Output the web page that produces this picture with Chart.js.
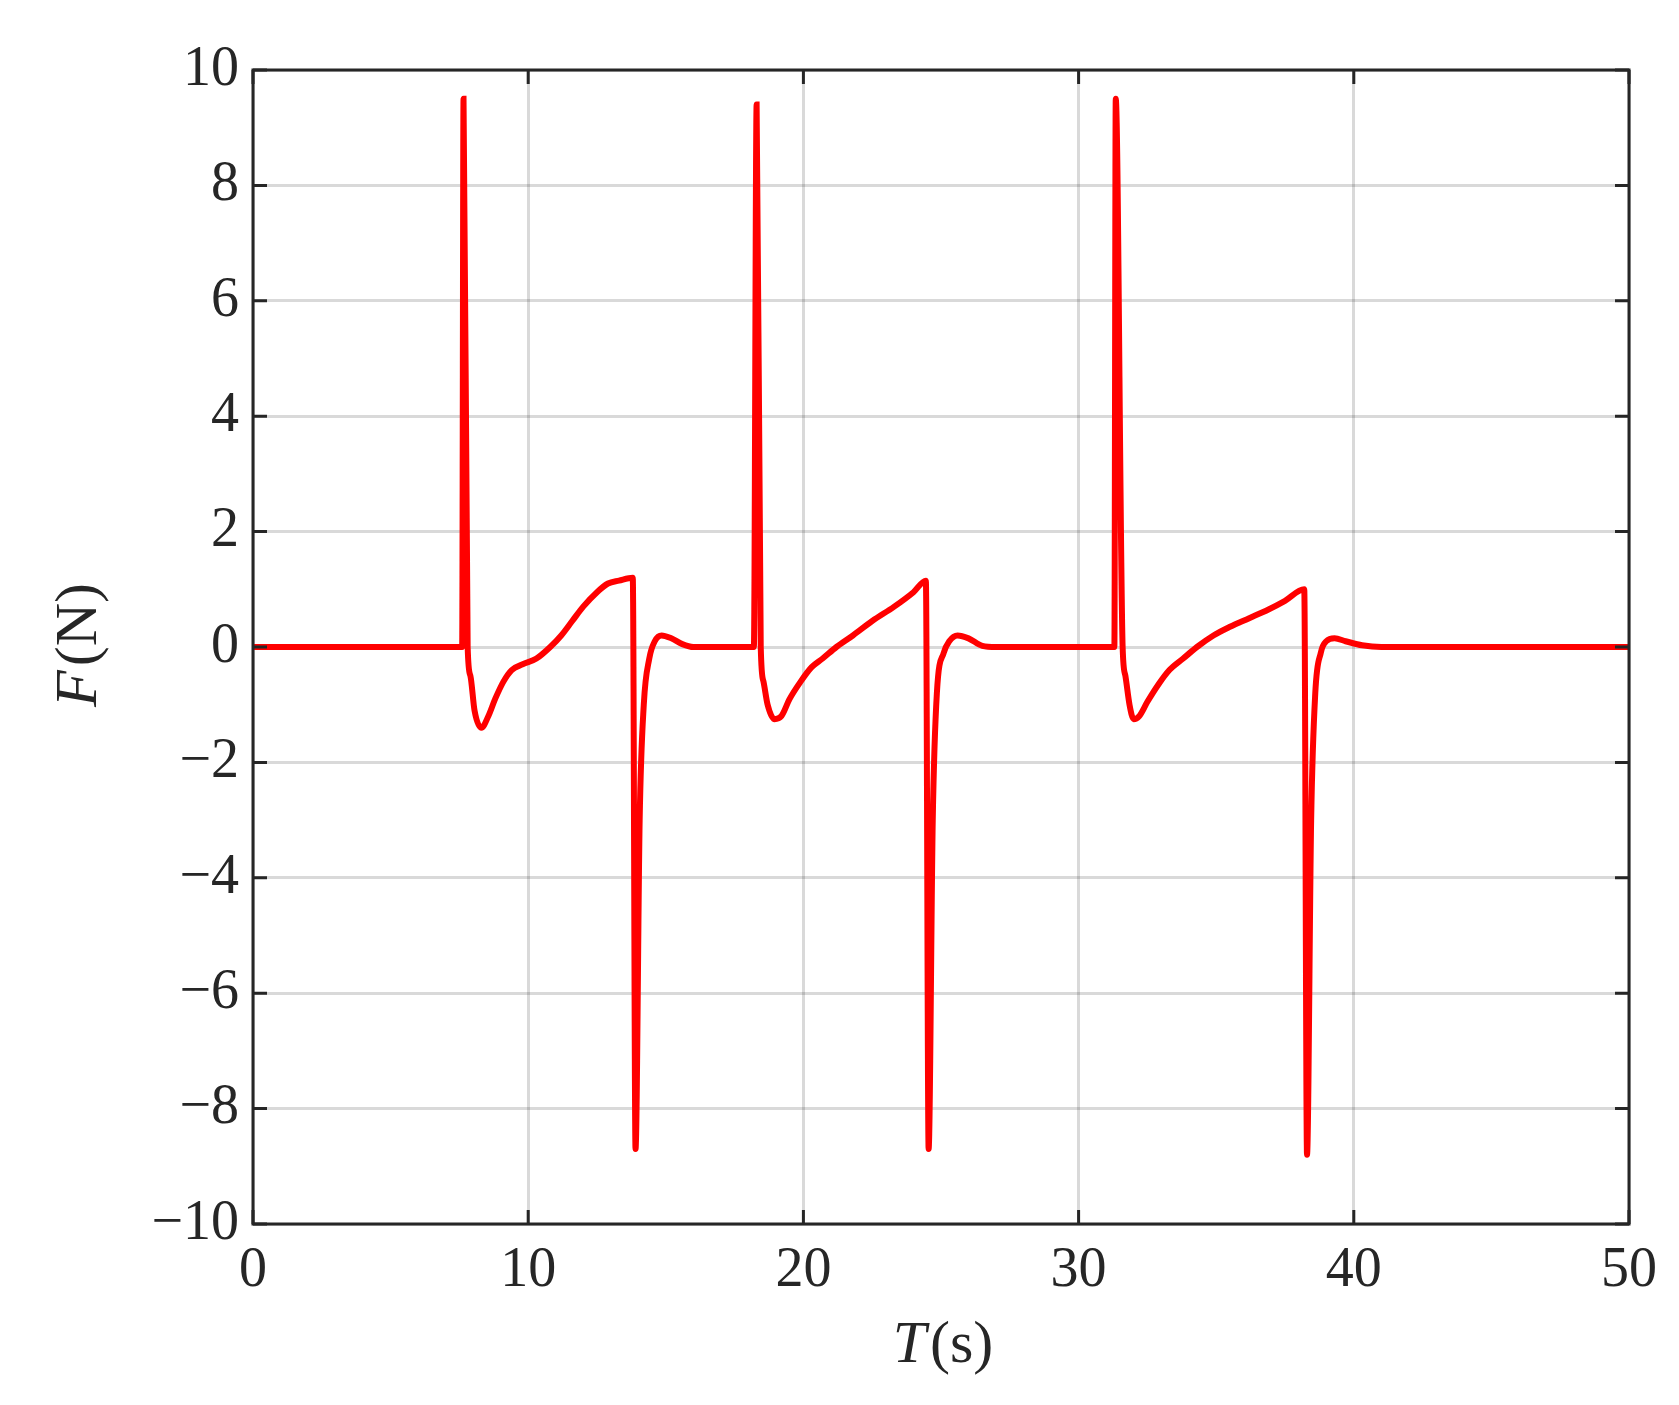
<!DOCTYPE html>
<html><head><meta charset="utf-8">
<script src="https://cdn.jsdelivr.net/npm/chart.js@4"></script>
<style>html,body{margin:0;padding:0;background:#fff}#w{width:1679px;height:1405px}</style>
</head><body><div id="w"><canvas id="c"></canvas></div>
<script>
const tSec = [0,7.6,7.65,7.8,7.9,8.05,8.3,8.55,8.8,9.1,9.4,9.8,10.3,10.8,11.2,11.6,12.0,12.5,12.9,13.3,13.8,13.9,14.05,14.2,14.4,14.6,14.85,15.2,15.6,16.0,18.2,18.3,18.45,18.55,18.7,18.95,19.2,19.5,19.9,20.3,20.7,21.2,21.8,22.5,23.3,24.0,24.45,24.55,24.7,24.85,25.1,25.3,25.6,26.0,26.5,27.0,31.3,31.35,31.6,31.7,31.85,32.0,32.2,32.5,32.9,33.3,33.8,34.3,34.9,35.5,36.2,36.9,37.5,38.2,38.3,38.45,38.6,38.8,39.0,39.3,39.7,40.3,41.0,50];
const forceN = [0,0,9.5,0,-0.5,-1.1,-1.4,-1.2,-0.9,-0.6,-0.4,-0.3,-0.2,0,0.2,0.45,0.7,0.95,1.1,1.15,1.2,-8.7,-3,-1,-0.2,0.1,0.2,0.15,0.05,0,0,9.4,0,-0.6,-1.0,-1.25,-1.2,-0.9,-0.6,-0.35,-0.2,0,0.2,0.45,0.7,0.95,1.15,-8.7,-3,-0.8,-0.1,0.1,0.2,0.15,0.02,0,0,9.5,0,-0.5,-1.0,-1.25,-1.2,-0.95,-0.65,-0.4,-0.2,0,0.2,0.35,0.5,0.65,0.8,1.0,-8.8,-3,-0.8,-0.1,0.1,0.15,0.1,0.03,0,0];
const xTicks = [0,10,20,30,40,50];
const yTicks = [-10,-8,-6,-4,-2,0,2,4,6,8,10];
const pts = tSec.map((t,i)=>({x:t,y:forceN[i]}));
const FONT = '"Liberation Serif","DejaVu Serif",serif';
const deco = {
  id:'deco',
  afterDraw(ch){
    const c=ch.ctx, a=ch.chartArea, xs=ch.scales.x, ys=ch.scales.y;
    c.save();
    c.strokeStyle='#262626'; c.lineWidth=3;
    c.beginPath();
    xTicks.forEach(v=>{const p=xs.getPixelForValue(v);c.moveTo(p,a.bottom);c.lineTo(p,a.bottom-14);c.moveTo(p,a.top);c.lineTo(p,a.top+14);});
    yTicks.forEach(v=>{const p=ys.getPixelForValue(v);c.moveTo(a.left,p);c.lineTo(a.left+14,p);c.moveTo(a.right,p);c.lineTo(a.right-14,p);});
    c.stroke();
    c.strokeRect(a.left,a.top,a.right-a.left,a.bottom-a.top);
    c.fillStyle='#262626'; c.textBaseline='alphabetic';
    const xt=(a.left+a.right)/2, yb=1362;
    c.font='italic 60px '+FONT; const w1=c.measureText('T').width;
    c.font='60px '+FONT; const w2=c.measureText('(s)').width;
    let sx=xt-(w1+w2)/2;
    c.font='italic 60px '+FONT; c.fillText('T',sx,yb);
    c.font='60px '+FONT; c.fillText('(s)',sx+w1+4,yb);
    c.translate(96,(a.top+a.bottom)/2); c.rotate(-Math.PI/2);
    c.font='italic 60px '+FONT; const v1=c.measureText('F').width;
    c.font='60px '+FONT; const v2=c.measureText('(N)').width;
    sx=-(v1+v2)/2;
    c.font='italic 60px '+FONT; c.fillText('F',sx,0);
    c.font='60px '+FONT; c.fillText('(N)',sx+v1+4,0);
    c.restore();
  }
};
new Chart(document.getElementById('c'),{
  type:'line',
  data:{datasets:[{data:pts,borderColor:'#ff0000',borderWidth:6,pointRadius:0,cubicInterpolationMode:'monotone',fill:false}]},
  options:{
    responsive:true,maintainAspectRatio:false,animation:false,
    layout:{padding:{top:70,right:50}},
    plugins:{legend:{display:false},tooltip:{enabled:false}},
    scales:{
      x:{type:'linear',min:0,max:50,
        afterFit(s){s.height=181;},
        afterBuildTicks(s){s.ticks=xTicks.map(v=>({value:v}));},
        grid:{color:'rgba(0,0,0,0.15)',lineWidth:3,drawTicks:false},border:{display:false},
        ticks:{padding:14,color:'#262626',font:{family:FONT,size:56},maxRotation:0}},
      y:{min:-10,max:10,
        afterFit(s){s.width=253;},
        afterBuildTicks(s){s.ticks=yTicks.map(v=>({value:v}));},
        grid:{color:'rgba(0,0,0,0.15)',lineWidth:3,drawTicks:false},border:{display:false},
        ticks:{padding:14,color:'#262626',font:{family:FONT,size:56},callback:v=>String(v).replace('-','\u2212')}}
    }
  },
  plugins:[deco]
});
</script></body></html>
